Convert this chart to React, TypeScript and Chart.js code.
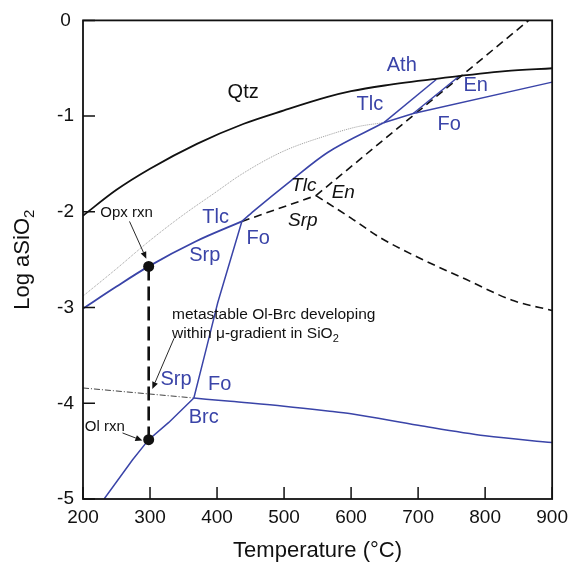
import React, { useEffect, useRef } from 'react';
import { Chart, registerables } from 'chart.js';
Chart.register(...registerables);

const BLUE = 'rgb(58,68,168)';
const INK = '#111111';
const FONT = '"Liberation Sans", Arial, sans-serif';

// x ticks / y ticks
const xTickValues = [200, 300, 400, 500, 600, 700, 800, 900];
const yTickValues = [-5, -4, -3, -2, -1, 0];

// Qtz saturation curve
const qtzT = [200, 250, 300, 370, 440, 500, 565, 600, 650, 727, 830, 900];
const qtzV = [-2.04, -1.77, -1.55, -1.29, -1.08, -0.94, -0.8, -0.74, -0.68, -0.61, -0.53, -0.5];

// thin grey dotted curve
const greyT = [200, 249, 298, 348, 397, 436, 498, 565, 610, 648.5];
const greyV = [-2.88, -2.6, -2.31, -2.04, -1.8, -1.61, -1.37, -1.2, -1.11, -1.068];

// Srp / Tlc (lower part)
const srpTlcT = [200, 250, 298, 368, 437];
const srpTlcV = [-3.01, -2.78, -2.57, -2.31, -2.1];

// Tlc / Fo (upper part)
const tlcFoT = [437, 455, 511, 565, 648.5];
const tlcFoV = [-2.1, -1.99, -1.67, -1.38, -1.07];

// Tlc / Ath
const tlcAthT = [648.5, 727];
const tlcAthV = [-1.07, -0.617];

// Fo upper
const foUpT = [648.5, 692.7, 900];
const foUpV = [-1.07, -0.973, -0.645];

// En / Fo
const enT = [692.7, 761.6];
const enV = [-0.973, -0.581];

// Srp / Fo steep
const srpFoT = [437, 401, 385, 365.4];
const srpFoV = [-2.1, -2.95, -3.4, -3.945];

// Srp / Brc
const brcT = [231.5, 274, 298, 328, 365.4];
const brcV = [-5.0, -4.59, -4.38, -4.2, -3.945];

// Fo / Brc
const foLowT = [365.4, 420, 500, 565, 600, 700, 800, 900];
const foLowV = [-3.945, -3.98, -4.03, -4.08, -4.11, -4.23, -4.34, -4.41];

// dash-dot metastable line
const dashDotT = [200, 365.4];
const dashDotV = [-3.84, -3.945];

// vertical µ-gradient line
const gradT = [298, 298];
const gradV = [-2.57, -4.38];

// metastable dashed reactions
const dashAT = [437, 547.6];
const dashAV = [-2.1, -1.83];
const dashBT = [547.6, 865];
const dashBV = [-1.83, 0];
const dashCT = [547.6, 600, 643.5, 702.6, 766.6, 843, 900];
const dashCV = [-1.83, -2.065, -2.27, -2.485, -2.69, -2.93, -3.03];

// reaction points
const dotT = [298, 298];
const dotV = [-2.57, -4.38];

// blue field labels
const blueLabels = ['Ath', 'En', 'Tlc', 'Fo', 'Tlc', 'Fo', 'Srp', 'Srp', 'Fo', 'Brc'];
const blueLabelT = [675.6, 786, 628, 746.5, 398, 461.4, 381.7, 338.8, 403.8, 380.2];
const blueLabelV = [-0.474, -0.682, -0.879, -1.087, -2.063, -2.28, -2.457, -3.755, -3.806, -4.149];

// black labels
const blackLabels = ['Qtz'];
const blackLabelT = [439];
const blackLabelV = [-0.755];

// italic metastable labels
const italicLabels = ['Tlc', 'En', 'Srp'];
const italicLabelT = [529.4, 588.4, 527.9];
const italicLabelV = [-1.73, -1.803, -2.094];

// small notes
const noteTexts = ['Opx rxn', 'Ol rxn'];
const noteT = [265, 232.5];
const noteV = [-2.01, -4.242];
const metaLine1 = 'metastable Ol-Brc developing';
const metaLine2 = 'within \u03bc-gradient in SiO';
const metaT = 332.9;
const metaV1 = -3.07;
const metaV2 = -3.277;

// arrows (start -> end)
const arrowStartT = [269.4, 335.9, 259];
const arrowStartV = [-2.1, -3.32, -4.31];
const arrowEndT = [294.5, 303.4, 288.6];
const arrowEndV = [-2.49, -3.85, -4.39];

const zip = (t: number[], v: number[]) => t.map((x, i) => ({ x, y: v[i] }));

function lineDs(t: number[], v: number[], color: string, width: number, dash: number[] = [], smooth = false) {
  return {
    type: 'line' as const,
    data: zip(t, v),
    borderColor: color,
    borderWidth: width,
    borderDash: dash,
    pointRadius: 0,
    pointHoverRadius: 0,
    fill: false,
    tension: 0,
    cubicInterpolationMode: smooth ? ('monotone' as const) : ('default' as const),
  };
}

const decorPlugin = {
  id: 'decor',
  afterDatasetsDraw(chart: any) {
    const { ctx, chartArea: ca, scales } = chart;
    const xs = scales.x;
    const ys = scales.y;
    const px = (t: number) => xs.getPixelForValue(t);
    const py = (v: number) => ys.getPixelForValue(v);
    ctx.save();

    // frame
    ctx.strokeStyle = INK;
    ctx.lineWidth = 1.8;
    ctx.strokeRect(ca.left, ca.top, ca.right - ca.left, ca.bottom - ca.top);

    // inward ticks
    ctx.lineWidth = 1.5;
    ctx.beginPath();
    xTickValues.forEach((t) => {
      const x = px(t);
      ctx.moveTo(x, ca.bottom);
      ctx.lineTo(x, ca.bottom - 12);
    });
    yTickValues.forEach((v) => {
      const y = py(v);
      ctx.moveTo(ca.left, y);
      ctx.lineTo(ca.left + 12, y);
    });
    ctx.stroke();

    // labels
    ctx.textAlign = 'center';
    ctx.textBaseline = 'middle';
    ctx.font = `20px ${FONT}`;
    ctx.fillStyle = BLUE;
    blueLabels.forEach((s, i) => ctx.fillText(s, px(blueLabelT[i]), py(blueLabelV[i])));
    ctx.fillStyle = INK;
    blackLabels.forEach((s, i) => ctx.fillText(s, px(blackLabelT[i]), py(blackLabelV[i])));
    ctx.font = `italic 19px ${FONT}`;
    italicLabels.forEach((s, i) => ctx.fillText(s, px(italicLabelT[i]), py(italicLabelV[i])));

    ctx.font = `15px ${FONT}`;
    noteTexts.forEach((s, i) => ctx.fillText(s, px(noteT[i]), py(noteV[i])));
    ctx.font = `15.5px ${FONT}`;
    ctx.textAlign = 'left';
    ctx.fillText(metaLine1, px(metaT), py(metaV1));
    ctx.fillText(metaLine2, px(metaT), py(metaV2));
    const w2 = ctx.measureText(metaLine2).width;
    ctx.font = `11px ${FONT}`;
    ctx.fillText('2', px(metaT) + w2, py(metaV2) + 5);

    // arrows
    ctx.strokeStyle = INK;
    ctx.fillStyle = INK;
    ctx.lineWidth = 0.9;
    arrowStartT.forEach((_, i) => {
      const x0 = px(arrowStartT[i]);
      const y0 = py(arrowStartV[i]);
      const x1 = px(arrowEndT[i]);
      const y1 = py(arrowEndV[i]);
      const a = Math.atan2(y1 - y0, x1 - x0);
      const L = 7;
      const W = 3;
      const bx = x1 - L * Math.cos(a);
      const by = y1 - L * Math.sin(a);
      ctx.beginPath();
      ctx.moveTo(x0, y0);
      ctx.lineTo(bx, by);
      ctx.stroke();
      ctx.beginPath();
      ctx.moveTo(x1, y1);
      ctx.lineTo(bx + W * Math.sin(a), by - W * Math.cos(a));
      ctx.lineTo(bx - W * Math.sin(a), by + W * Math.cos(a));
      ctx.closePath();
      ctx.fill();
    });

    // axis titles
    ctx.fillStyle = INK;
    ctx.font = `22px ${FONT}`;
    ctx.textAlign = 'center';
    ctx.textBaseline = 'alphabetic';
    ctx.fillText('Temperature (\u00b0C)', (ca.left + ca.right) / 2, 557);

    const main = 'Log aSiO';
    ctx.font = `22px ${FONT}`;
    const wm = ctx.measureText(main).width;
    ctx.font = `15px ${FONT}`;
    const ws = ctx.measureText('2').width;
    const total = wm + ws;
    ctx.translate(29, (ca.top + ca.bottom) / 2);
    ctx.rotate(-Math.PI / 2);
    ctx.textAlign = 'left';
    ctx.font = `22px ${FONT}`;
    ctx.fillText(main, -total / 2, 0);
    ctx.font = `15px ${FONT}`;
    ctx.fillText('2', -total / 2 + wm, 5);

    ctx.restore();
  },
};

export default function App() {
  const ref = useRef<HTMLCanvasElement>(null);
  useEffect(() => {
    document.body.style.margin = '0';
    const canvas = ref.current!;
    const chart = new Chart(canvas, {
      type: 'line',
      data: {
        datasets: [
          {
            type: 'scatter' as const,
            data: zip(dotT, dotV),
            pointRadius: 5.5,
            pointBackgroundColor: INK,
            pointBorderColor: INK,
            pointBorderWidth: 0,
            showLine: false,
          } as any,
          lineDs(qtzT, qtzV, INK, 1.8, [], true),
          lineDs(srpTlcT, srpTlcV, BLUE, 1.8, [], true),
          lineDs(tlcFoT, tlcFoV, BLUE, 1.6, [], true),
          lineDs(tlcAthT, tlcAthV, BLUE, 1.5),
          lineDs(foUpT, foUpV, BLUE, 1.5),
          lineDs(enT, enV, BLUE, 1.5),
          lineDs(srpFoT, srpFoV, BLUE, 1.5),
          lineDs(brcT, brcV, BLUE, 1.5),
          lineDs(foLowT, foLowV, BLUE, 1.5, [], true),
          lineDs(gradT, gradV, INK, 2.6, [14, 6]),
          lineDs(dashAT, dashAV, INK, 1.6, [8, 5]),
          lineDs(dashBT, dashBV, INK, 1.6, [8, 5]),
          lineDs(dashCT, dashCV, INK, 1.6, [8, 5], true),
          lineDs(dashDotT, dashDotV, INK, 0.8, [6, 2, 1, 2]),
          lineDs(greyT, greyV, 'rgb(130,130,130)', 0.8, [1, 1], true),
        ] as any,
      },
      options: {
        responsive: false,
        animation: false,
        devicePixelRatio: 1,
        layout: { padding: { top: 17, right: 18, left: 0, bottom: 0 } },
        plugins: { legend: { display: false }, tooltip: { enabled: false }, title: { display: false } },
        events: [],
        scales: {
          x: {
            type: 'linear',
            min: 200,
            max: 900,
            ticks: { stepSize: 100, color: INK, font: { size: 19, family: FONT }, padding: 7, maxRotation: 0 },
            grid: { display: false, drawTicks: false },
            border: { display: false },
            afterFit: (s: any) => {
              s.height = 63;
            },
          },
          y: {
            type: 'linear',
            min: -5,
            max: 0,
            ticks: { stepSize: 1, color: INK, font: { size: 19, family: FONT }, padding: 9, crossAlign: 'center' },
            grid: { display: false, drawTicks: false },
            border: { display: false },
            afterFit: (s: any) => {
              s.width = 83;
            },
          },
        },
      } as any,
      plugins: [decorPlugin],
    });
    return () => chart.destroy();
  }, []);
  return (
    <div style={{ width: 575, height: 562 }}>
      <canvas ref={ref} width={575} height={562} style={{ display: 'block' }} />
    </div>
  );
}
